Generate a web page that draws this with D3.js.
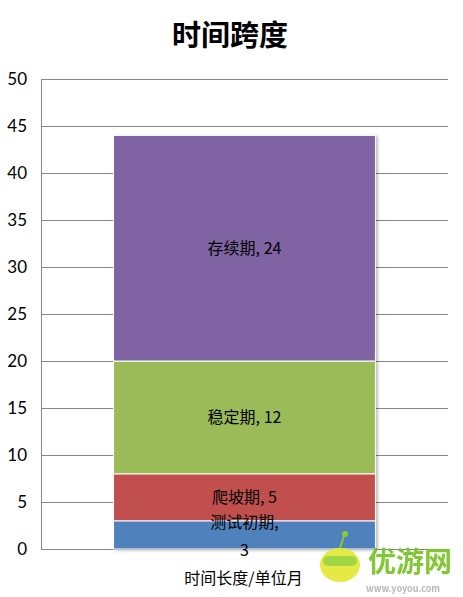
<!DOCTYPE html>
<html>
<head>
<meta charset="utf-8">
<script src="https://cdn.jsdelivr.net/npm/d3@7"></script>
<style>
  html, body { margin: 0; padding: 0; background: #fff; }
  svg text { font-family: "Noto Sans CJK SC", "Noto Sans", sans-serif; }
  .tick text { font-family: Lato, "Open Sans", sans-serif; }
</style>
</head>
<body>
<svg id="chart" width="463" height="597"></svg>
<script>
// stacked bar: one category, four phases (months)
var category = ["时间长度/单位月"];
var phases   = ["测试初期", "爬坡期", "稳定期", "存续期"];
var months   = [3, 5, 12, 24];
var colors   = ["#4f81bd", "#c0504d", "#9bbb59", "#8064a2"];
var yTicks   = [0, 5, 10, 15, 20, 25, 30, 35, 40, 45, 50];

(function () {
  var W = 463, H = 597;
  var svg = d3.select("#chart");
  var m = { left: 41, right: 15, top: 79, bottom: 48 };

  var x = d3.scaleBand().domain(category).range([m.left, W - m.right]).paddingInner(0).paddingOuter(0.277);
  var y = d3.scaleLinear().domain([0, 50]).range([H - m.bottom, m.top]);

  // title
  svg.append("text").attr("x", 230).attr("y", 46).attr("text-anchor", "middle")
    .attr("font-size", 29).attr("font-weight", "bold").attr("fill", "#000").text("时间跨度");

  // shadow for the bar
  var defs = svg.append("defs");
  var f = defs.append("filter").attr("id", "sh").attr("x", "-5%").attr("y", "-5%").attr("width", "115%").attr("height", "115%");
  f.append("feDropShadow").attr("dx", 2).attr("dy", 1).attr("stdDeviation", 1.5)
    .attr("flood-color", "#000").attr("flood-opacity", 0.25);

  // gridlines + y axis
  var gy = svg.append("g").attr("transform", "translate(" + m.left + ",0)")
    .call(d3.axisLeft(y).tickValues(yTicks).tickSize(-(W - m.right - m.left)).tickPadding(14));
  gy.select(".domain").attr("stroke", "#868686");
  gy.selectAll(".tick line").attr("stroke", "#868686");
  gy.selectAll(".tick text").attr("font-size", 17).attr("fill", "#000");

  // stack
  var row = {};
  phases.forEach(function (p, i) { row[p] = months[i]; });
  var series = d3.stack().keys(phases)([row]);

  var bx = x(category[0]), bw = x.bandwidth();
  var gBar = svg.append("g").attr("filter", "url(#sh)");
  gBar.selectAll("rect").data(series).join("rect")
    .attr("x", bx).attr("width", bw)
    .attr("y", function (s) { return y(s[0][1]); })
    .attr("height", function (s) { return y(s[0][0]) - y(s[0][1]); })
    .attr("fill", function (s, i) { return colors[i]; })
    .attr("stroke", "#fff").attr("stroke-width", 1);

  // segment labels
  var cx = bx + bw / 2;
  series.forEach(function (s, i) {
    var mid = (y(s[0][0]) + y(s[0][1])) / 2;
    var t = svg.append("text").attr("text-anchor", "middle").attr("font-size", 16).attr("fill", "#000");
    if (i === 0) {
      t.append("tspan").attr("x", cx).attr("y", mid - 7).text(s.key + ",");
      t.append("tspan").attr("x", cx).attr("y", mid + 21).text(months[i]);
    } else {
      t.attr("x", cx).attr("y", mid + 6).text(s.key + ", " + months[i]);
    }
  });

  // category label
  svg.append("text").attr("x", cx - 1).attr("y", 584).attr("text-anchor", "middle")
    .attr("font-size", 16).attr("fill", "#000").text(category[0]);

  // watermark
  var wm = svg.append("g").attr("opacity", 0.95);
  wm.append("ellipse").attr("cx", 340).attr("cy", 565).attr("rx", 20).attr("ry", 17).attr("fill", "#e3e83a");
  wm.append("rect").attr("x", 323).attr("y", 556).attr("width", 34).attr("height", 10).attr("rx", 5).attr("fill", "#9bd33a");
  wm.append("line").attr("x1", 340).attr("y1", 548).attr("x2", 344).attr("y2", 536).attr("stroke", "#8ccf2e").attr("stroke-width", 2);
  wm.append("circle").attr("cx", 345).attr("cy", 534).attr("r", 3).attr("fill", "#8ccf2e");
  wm.append("text").attr("x", 368).attr("y", 572).attr("font-size", 28).attr("font-weight", "bold")
    .attr("fill", "#7cc52a").text("优游网");
  wm.append("text").attr("x", 366).attr("y", 592).attr("font-size", 9).attr("font-weight", "bold")
    .attr("fill", "#b5b5b5").text("www.yoyou.com");
})();
</script>
</body>
</html>
